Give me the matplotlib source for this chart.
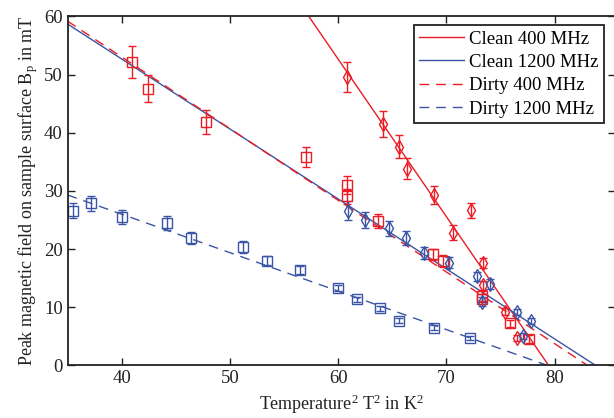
import numpy as np
import matplotlib
matplotlib.use("Agg")
import matplotlib.pyplot as plt

plt.rcParams['font.family'] = 'Liberation Serif'
plt.rcParams['mathtext.fontset'] = 'custom'
plt.rcParams['mathtext.rm'] = 'Liberation Serif'
plt.rcParams['mathtext.it'] = 'Liberation Serif:italic'

RED = '#ec1c24'
BLUE = '#3a55a5'

# measured points (T^2 in K^2, Bp in mT, error in mT)
clean400_t2 = [60.8, 64.1, 65.6, 66.4, 68.9, 70.6, 72.3, 73.4, 73.4, 75.4, 76.5]
clean400_b = [49.6, 41.5, 37.6, 33.8, 29.3, 22.8, 26.7, 17.6, 13.8, 9.2, 4.7]
clean400_err = [2.5, 2.2, 2.0, 1.8, 1.5, 1.3, 1.3, 0.9, 0.8, 0.6, 0.5]

clean1200_t2 = [60.9, 62.5, 64.7, 66.3, 67.9, 70.2, 72.8, 74.0, 73.3, 76.5, 77.1, 77.8]
clean1200_b = [26.6, 25.0, 23.6, 21.9, 19.3, 17.7, 15.3, 14.0, 11.0, 9.2, 5.1, 7.6]
clean1200_err = [1.6, 1.4, 1.3, 1.2, 1.0, 1.0, 0.8, 0.8, 0.7, 0.5, 0.5, 0.5]

dirty400_t2 = [41.0, 42.4, 47.8, 57.0, 60.8, 60.8, 63.7, 68.8, 69.7, 73.3, 73.3, 75.9, 77.6]
dirty400_b = [52.2, 47.6, 41.9, 35.8, 31.0, 29.1, 24.9, 19.1, 18.0, 11.9, 11.4, 7.3, 4.6]
dirty400_err = [2.7, 2.3, 2.1, 1.75, 1.5, 1.3, 1.2, 1.0, 1.0, 1.0, 0.9, 0.6, 0.7]

dirty1200_t2 = [35.5, 37.2, 40.0, 44.2, 46.4, 51.2, 53.4, 56.5, 60.0, 61.7, 63.9, 65.6, 68.9, 72.2]
dirty1200_b = [26.6, 27.9, 25.6, 24.5, 21.9, 20.4, 18.0, 16.4, 13.3, 11.4, 9.8, 7.7, 6.5, 4.7]
dirty1200_err = [1.3, 1.3, 1.2, 1.2, 1.0, 1.0, 0.8, 0.7, 0.5, 0.4, 0.4, 0.4, 0.4, 0.4]

# linear fits  Bp = a * (Tc^2 - T^2)
fit_names = ['Clean 400 MHz', 'Clean 1200 MHz', 'Dirty 400 MHz', 'Dirty 1200 MHz']
fit_slope = [2.708, 1.203, 1.232, 0.661]
fit_tc2 = [79.45, 83.8, 83.05, 79.35]
fit_color = [RED, BLUE, RED, BLUE]
fit_style = ['-', '-', '--', '--']

fig = plt.figure(figsize=(6.14, 4.18), dpi=100)
ax = fig.add_axes([0.110, 0.1256, 0.892, 0.835])

t = np.linspace(35, 86, 400)
for name, a, tc2, c, ls in zip(fit_names, fit_slope, fit_tc2, fit_color, fit_style):
    b = a * (tc2 - t)
    ax.plot(t, np.where(b >= 0, b, np.nan), color=c, ls=ls, lw=1.0,
            dashes=(7, 5) if ls == '--' else (None, None), label=name)

ekw = dict(ls='none', elinewidth=1.0, capsize=3, capthick=1.0, mfc='none', mew=1.0)
ax.errorbar(dirty400_t2, dirty400_b, yerr=dirty400_err, marker='s', ms=7, color=RED, **ekw)
ax.errorbar(dirty1200_t2, dirty1200_b, yerr=dirty1200_err, marker='s', ms=7, color=BLUE, **ekw)
ax.errorbar(clean400_t2, clean400_b, yerr=clean400_err, marker='d', ms=7, color=RED, **ekw)
ax.errorbar(clean1200_t2, clean1200_b, yerr=clean1200_err, marker='d', ms=7, color=BLUE, **ekw)

ax.set_xlim(35, 85.6)
ax.set_ylim(0, 60)
ax.set_xticks([40, 50, 60, 70, 80])
ax.set_yticks([0, 10, 20, 30, 40, 50, 60])
ax.tick_params(direction='in', top=True, right=True, length=5, width=1,
               labelsize=13.5, colors='#222222', labelcolor='#222222')
for s in ax.spines.values():
    s.set_linewidth(1.3)
    s.set_color('#222222')

ax.set_xlabel(r'Temperature$^2$ T$^2$ in K$^2$', fontsize=13, color='#222222', labelpad=4)
ax.set_ylabel(r'Peak magnetic field on sample surface B$_\mathrm{p}$ in mT', fontsize=13,
              color='#222222', labelpad=3)

leg = ax.legend(loc='upper right', fontsize=13.5, handlelength=2.4, handletextpad=0.25,
                labelspacing=0.33, borderpad=0.3, borderaxespad=0, fancybox=False,
                framealpha=1, bbox_to_anchor=(0.9796, 0.9756))
leg.get_frame().set_edgecolor('#222222')
leg.get_frame().set_linewidth(1.3)

fig.savefig('out.png', dpi=100)
